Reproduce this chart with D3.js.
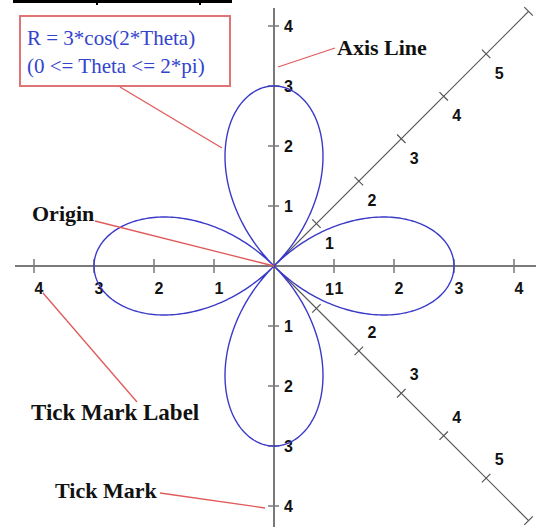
<!DOCTYPE html>
<html>
<head>
<meta charset="utf-8">
<script src="https://cdn.jsdelivr.net/npm/d3@7"></script>
<style>
    body { margin: 0; background: #fff; }
    svg { display: block; }
</style>
</head>
<body>
<div id="chart"></div>
<script>
// values
const axisTicks = [-4, -3, -2, -1, 1, 2, 3, 4];
const diagTicks = [1, 2, 3, 4, 5, 6];
const diagLabels = [1, 2, 3, 4, 5];
const roseAmplitude = 3;   // R = 3*cos(2*Theta)
const roseK = 2;
const formulaLines = ["R = 3*cos(2*Theta)", "(0 <= Theta <= 2*pi)"];

class PolarPlot{
    constructor(parent){
        this.parent = d3.select(parent);
        this.wSvg = 536;
        this.hSvg = 531;
        this.ox = 274;
        this.oy = 266;
        this.unit = 60;

        this.init();
    }

    init(){
        this.svg = this.parent.append("svg")
            .attr("width", this.wSvg)
            .attr("height", this.hSvg)
            .attr("viewBox", `0 0 ${this.wSvg} ${this.hSvg}`);

        this.prepScales();
        this.renderHeader();
        this.renderAxes();
        this.renderDiagonals();
        this.renderCurve();
        this.renderNotes();
    }

    prepScales(){
        this.x = d3.scaleLinear().domain([-4, 4]).range([this.ox - 4*this.unit, this.ox + 4*this.unit]);
        this.y = d3.scaleLinear().domain([-4, 4]).range([this.oy + 4*this.unit, this.oy - 4*this.unit]);
        // distance along a diagonal axis
        this.d = d3.scaleLinear().domain([0, 6]).range([0, 6*this.unit]);
    }

    renderHeader(){
        // bottom of a cut off title
        const g = this.svg.append("g").attr("fill", "#000");
        g.append("rect").attr("x", 13).attr("y", 0).attr("width", 219).attr("height", 3);
        g.append("rect").attr("x", 96).attr("y", 0).attr("width", 2).attr("height", 5);
        g.append("rect").attr("x", 199).attr("y", 0).attr("width", 2).attr("height", 5);
    }

    renderAxes(){
        const g = this.svg.append("g").attr("class", "axes");
        const stroke = "#7a7a7a";

        g.append("line")
            .attr("x1", 15).attr("x2", this.wSvg)
            .attr("y1", this.oy).attr("y2", this.oy)
            .attr("stroke", stroke).attr("stroke-width", 2);
        g.append("line")
            .attr("x1", this.ox).attr("x2", this.ox)
            .attr("y1", 8).attr("y2", 527)
            .attr("stroke", stroke).attr("stroke-width", 2);

        g.selectAll(".xtick").data(axisTicks).enter().append("line")
            .attr("x1", d => this.x(d)).attr("x2", d => this.x(d))
            .attr("y1", this.oy - 7).attr("y2", this.oy + 7)
            .attr("stroke", stroke).attr("stroke-width", 1.5);
        g.selectAll(".ytick").data(axisTicks).enter().append("line")
            .attr("x1", this.ox - 6).attr("x2", this.ox + 5)
            .attr("y1", d => this.y(d)).attr("y2", d => this.y(d))
            .attr("stroke", stroke).attr("stroke-width", 1.5);

        const lbl = g.append("g")
            .attr("font-family", "Liberation Sans, Arial, sans-serif")
            .attr("font-weight", "bold")
            .attr("font-size", 16)
            .attr("fill", "#111");

        lbl.selectAll(".xl").data(axisTicks).enter().append("text")
            .attr("x", d => this.x(d) + 5)
            .attr("y", this.oy + 28)
            .attr("text-anchor", "middle")
            .text(d => Math.abs(d));
        lbl.selectAll(".yl").data(axisTicks).enter().append("text")
            .attr("x", this.ox + 10)
            .attr("y", d => this.y(d) + 6)
            .text(d => Math.abs(d));
    }

    renderDiagonals(){
        const g = this.svg.append("g").attr("class", "diagonals");
        const c = Math.SQRT1_2;
        const tick = 6;

        [-1, 1].forEach(dir => {
            // dir -1 goes up-right, dir 1 goes down-right
            const px = t => this.ox + this.d(t)*c;
            const py = t => this.oy + dir*this.d(t)*c;

            g.append("line")
                .attr("x1", px(0)).attr("y1", py(0))
                .attr("x2", px(6)).attr("y2", py(6))
                .attr("stroke", "#555").attr("stroke-width", 1.2);

            // ticks run across the diagonal
            g.selectAll(null).data(diagTicks).enter().append("line")
                .attr("x1", t => px(t) - tick*c).attr("y1", t => py(t) + dir*tick*c)
                .attr("x2", t => px(t) + tick*c).attr("y2", t => py(t) - dir*tick*c)
                .attr("stroke", "#555").attr("stroke-width", 1.2);

            g.selectAll(null).data(diagLabels).enter().append("text")
                .attr("x", t => px(t) + 13)
                .attr("y", t => dir < 0 ? py(t) + 25 : py(t) - 13)
                .attr("text-anchor", "middle")
                .attr("font-family", "Liberation Sans, Arial, sans-serif")
                .attr("font-weight", "bold")
                .attr("font-size", 16)
                .attr("fill", "#111")
                .text(t => t);
        });
    }

    renderCurve(){
        const thetas = d3.range(0, 2*Math.PI + 0.001, Math.PI/360);
        const line = d3.line()
            .x(t => this.x(roseAmplitude*Math.cos(roseK*t)*Math.cos(t)))
            .y(t => this.y(roseAmplitude*Math.cos(roseK*t)*Math.sin(t)));

        this.svg.append("path")
            .datum(thetas)
            .attr("d", line)
            .attr("fill", "none")
            .attr("stroke", "#3a3ac8")
            .attr("stroke-width", 1.4);
    }

    renderNotes(){
        const red = "#e05a5a";
        const g = this.svg.append("g").attr("class", "notes");

        const pointers = [
            [[120, 87], [222, 148]],
            [[278, 67], [335, 48]],
            [[95, 221], [this.ox, this.oy]],
            [[43, 293], [137, 402]],
            [[160, 493], [265, 508]]
        ];
        g.selectAll(".ptr").data(pointers).enter().append("line")
            .attr("x1", d => d[0][0]).attr("y1", d => d[0][1])
            .attr("x2", d => d[1][0]).attr("y2", d => d[1][1])
            .attr("stroke", red).attr("stroke-width", 1.3);

        g.append("rect")
            .attr("x", 20).attr("y", 16)
            .attr("width", 210).attr("height", 70)
            .attr("fill", "#fff")
            .attr("stroke", "#e07474").attr("stroke-width", 2);

        g.selectAll(".formula").data(formulaLines).enter().append("text")
            .attr("x", 27)
            .attr("y", (d, i) => 45 + i*28)
            .attr("font-family", "Liberation Serif, Times New Roman, serif")
            .attr("font-size", 21)
            .attr("fill", "#3344cc")
            .text(d => d);

        const labels = [
            ["Axis Line", 337, 55, 22],
            ["Origin", 32, 221, 22],
            ["Tick Mark Label", 31, 420, 23],
            ["Tick Mark", 55, 498, 22]
        ];
        g.selectAll(".lab").data(labels).enter().append("text")
            .attr("x", d => d[1]).attr("y", d => d[2])
            .attr("font-family", "Liberation Serif, Times New Roman, serif")
            .attr("font-weight", "bold")
            .attr("font-size", d => d[3])
            .attr("fill", "#111")
            .text(d => d[0]);
    }
}

new PolarPlot(document.getElementById("chart"));
</script>
</body>
</html>
